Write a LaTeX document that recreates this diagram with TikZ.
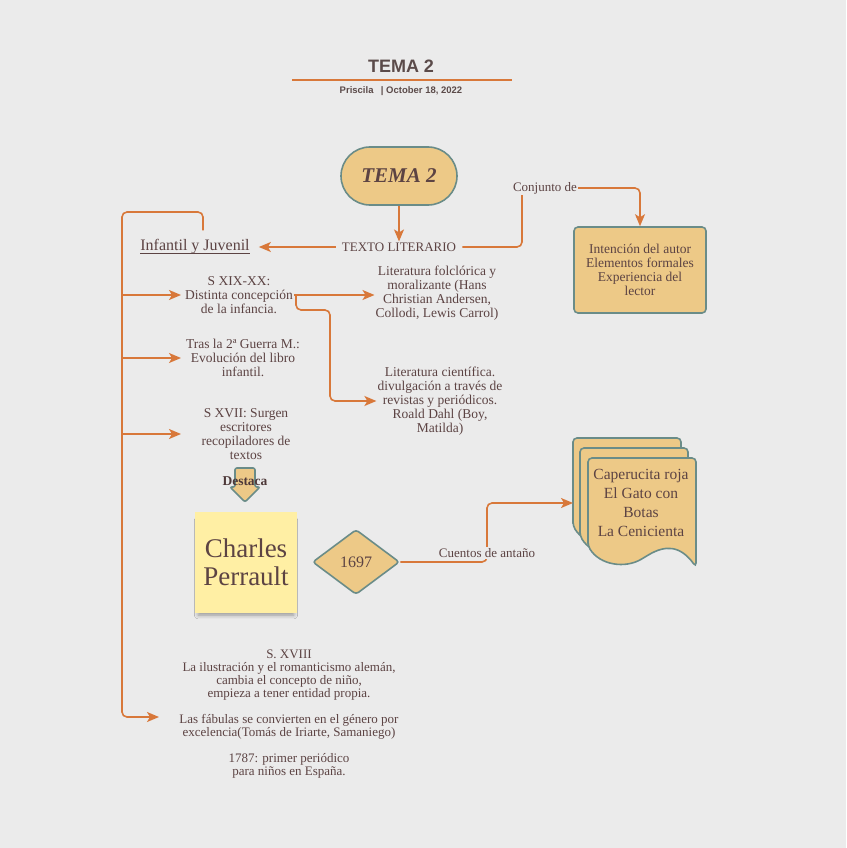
\documentclass[tikz,border=0pt]{standalone}
\usepackage{fontspec}
\setmainfont{Liberation Serif}
\newfontfamily\headfont{Liberation Sans}
\usepackage{tikz}
\usetikzlibrary{arrows.meta,shapes.geometric,shadows.blur}
\definecolor{bgc}{HTML}{EBEBEB}
\definecolor{linec}{HTML}{D8783A}
\definecolor{boxc}{HTML}{EDC987}
\definecolor{edgec}{HTML}{6A8C88}
\definecolor{textc}{HTML}{5C4343}
\definecolor{notec}{HTML}{FFEFA4}
\definecolor{headc}{HTML}{5B4B4A}

\begin{document}
\begin{tikzpicture}[x=1pt, y=-1pt, >={Stealth[length=12pt,width=10pt,inset=3pt]},
  link/.style={draw=linec, line width=1.6pt, rounded corners=5pt},
  txt/.style={text=textc, align=center, inner sep=1pt, font=\fontsize{13.5}{14}\selectfont},
  gold/.style={draw=edgec, fill=boxc, line width=1.6pt}]
\fill[bgc] (0,0) rectangle (846,848);
\useasboundingbox (0,0) rectangle (846,848);

% header
\node[text=headc, font=\headfont\bfseries\fontsize{18}{20}\selectfont] (title) at (401,66) {TEMA 2};
\draw[linec, line width=1.4pt] (292,80) -- (512,80);
\node[text=headc, font=\headfont\bfseries\fontsize{9.5}{11}\selectfont] (meta) at (401,91) {Priscila \enspace | October 18, 2022};

% main nodes
\node[gold, rounded corners=29pt, minimum width=116pt, minimum height=58pt, text=textc, font=\bfseries\itshape\fontsize{21}{24}\selectfont] (tema) at (399,176) {TEMA 2};
\node[txt, inner xsep=6pt, font=\fontsize{13}{15}\selectfont] (texto) at (399,247) {TEXTO LITERARIO};
\node[txt, inner xsep=9pt, font=\fontsize{16}{18}\selectfont] (infantil) at (195,247) {Infantil y Juvenil};
\draw[textc, line width=0.8pt] ([xshift=9pt,yshift=-2.5pt]infantil.base west) -- ([xshift=-9pt,yshift=-2.5pt]infantil.base east);
\node[txt, font=\fontsize{13}{15}\selectfont] (conjunto) at (545,188) {Conjunto de};
\node[gold, txt, rounded corners=4pt, minimum width=132pt, minimum height=86pt, font=\fontsize{13.5}{14}\selectfont] (rasgos) at (640,270) {Intención del autor\\Elementos formales\\Experiencia del\\lector};

\node[txt] (sxix) at (239,295) {S XIX-XX:\\Distinta concepción\\de la infancia.};
\node[txt] (folclore) at (437,293) {Literatura folclórica y\\moralizante (Hans\\Christian Andersen,\\Collodi, Lewis Carrol)};
\node[txt] (cientifica) at (440,401) {Literatura científica.\\divulgación a través de\\revistas y periódicos.\\Roald Dahl (Boy,\\Matilda)};
\node[txt] (guerra) at (243,358) {Tras la 2ª Guerra M.:\\Evolución del libro\\infantil.};
\node[txt] (sxvii) at (246,434) {S XVII: Surgen\\escritores\\recopiladores de\\textos};

% Destaca block arrow
\draw[gold, rounded corners=2pt] (235,468) -- (255,468) -- (255,487) -- (260,487) -- (245,502) -- (230,487) -- (235,487) -- cycle;
\node[text=textc!85!black, font=\bfseries\fontsize{13.5}{14}\selectfont] (destaca) at (245,481) {Destaca};

\node[fill=notec, minimum width=102pt, minimum height=101pt, text=textc, align=center,
  font=\fontsize{27}{28}\selectfont,
  blur shadow={shadow xshift=0pt, shadow yshift=-6pt, shadow scale=0.94, shadow blur radius=4pt, shadow opacity=35}] (perrault) at (246,562) {Charles\\Perrault};
\node[gold, diamond, rounded corners=3pt, minimum width=87pt, minimum height=65pt, inner sep=0pt, text=textc, font=\fontsize{16}{17}\selectfont] (anio) at (356,562) {1697};

% stacked documents
\foreach \dx/\dy in {-15/-20,-8/-10,0/0}
  \draw[gold, shift={(\dx,\dy)}, rounded corners=4pt] (588,546) -- (588,458) -- (696,458) -- (696,567)
    .. controls (680,545) and (665,545) .. (645,557) .. controls (625,569) and (600,565) .. (588,546) -- cycle;
\node[txt, font=\fontsize{15.5}{19}\selectfont] (cuentosbox) at (641,503) {Caperucita roja\\El Gato con\\Botas\\La Cenicienta};

\node[txt, font=\fontsize{13}{13}\selectfont] (sxviii) at (289,714) {S. XVIII\\La ilustración y el romanticismo alemán,\\cambia el concepto de niño,\\empieza a tener entidad propia.\\[13pt]Las fábulas se convierten en el género por\\excelencia(Tomás de Iriarte, Samaniego)\\[13pt]1787: primer periódico\\para niños en España.};

% connectors
\coordinate (top) at (122,212);
\coordinate (tips) at (181,0);
\coordinate (fabulas) at (159,717);
\coordinate (docleft) at (573,503);
\coordinate (bend) at (487,562);

\draw[link,->] (tema) -- (texto);
\draw[link,->] (texto) -- (infantil);
\draw[link] (texto.east) -| ([xshift=-23pt]conjunto.south);
\draw[link,->] (conjunto.east) -| (rasgos.north);
\draw[link,->] ([xshift=8pt,yshift=8pt]infantil.north) |- (top) |- (fabulas);
\foreach \n in {sxix,guerra,sxvii}
  \draw[link,->] (top |- \n) -- (tips |- \n);
\draw[link,->] (sxix.east) -- (sxix.east -| folclore.west);
\draw[link,->] ([xshift=2pt]sxix.east) -- ++(0,15) -- ++(34,0) |- (cientifica.west);
\draw[link,->] (anio.east) -- (bend) |- (docleft);
\node[txt, fill=bgc, font=\fontsize{13}{15}\selectfont] (antano) at (487,553) {Cuentos de antaño};
\end{tikzpicture}
\end{document}
